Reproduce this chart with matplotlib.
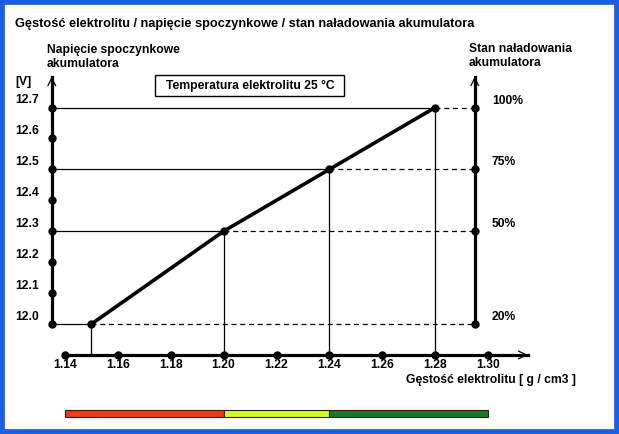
import matplotlib
matplotlib.use("Agg")
import matplotlib.pyplot as plt
from matplotlib.patches import Rectangle

# dane
density = [1.15, 1.20, 1.24, 1.28]          # g/cm3
voltage = [12.0, 12.3, 12.5, 12.7]          # V
charge = ['20%', '50%', '75%', '100%']
x_ticks = [1.14, 1.16, 1.18, 1.20, 1.22, 1.24, 1.26, 1.28, 1.30]
y_ticks = [12.0, 12.1, 12.2, 12.3, 12.4, 12.5, 12.6, 12.7]
band_edges = [1.14, 1.20, 1.24, 1.30]
band_colors = ['#ea3f12', '#ccff22', '#167a2c']

W, H = 619, 434
FONT = 'Liberation Sans'


def fpx(x, y):
    # piksele (od lewego gornego rogu) -> wspolrzedne figury
    return x / W, 1 - y / H


def run():
    fig = plt.figure(figsize=(W / 100, H / 100), dpi=100)
    fig.patch.set_facecolor('white')
    ax = fig.add_axes([0, 0, 1, 1])
    ax.set_axis_off()
    # skala: 1.14 -> 65 px, 1.30 -> 488 px; 12.0 -> 324 px, 12.7 -> 107.5 px
    sx = 423 / 0.16
    sy = 216.5 / 0.7
    ax.set_xlim(1.14 - 65 / sx, 1.14 + (W - 65) / sx)
    ax.set_ylim(12.0 - (H - 324) / sy, 12.0 + 324 / sy)

    x_left, x_right, y_axis, top = 1.135, 1.295, 11.9, 12.8
    lw_axis = 2.3

    # osie
    ax.plot([x_left, x_left], [voltage[0], top], color='black', lw=lw_axis)
    ax.plot([x_right, x_right], [voltage[0], top], color='black', lw=lw_axis)
    ax.plot([x_ticks[0], 1.315], [y_axis, y_axis], color='black', lw=lw_axis)
    for xy, xt in [((x_left, top), (x_left, top - 0.05)),
                   ((x_right, top), (x_right, top - 0.05)),
                   ((1.315, y_axis), (1.305, y_axis))]:
        ax.annotate('', xy=xy, xytext=xt,
                    arrowprops=dict(arrowstyle='->', lw=0.9, color='black',
                                    mutation_scale=14, shrinkA=0, shrinkB=0))

    # kropki na osiach
    ax.plot([x_left] * len(y_ticks), y_ticks, 'o', color='black', ms=5)
    ax.plot(x_ticks, [y_axis] * len(x_ticks), 'o', color='black', ms=5)
    ax.plot([x_right] * len(voltage), voltage, 'o', color='black', ms=5)

    # linie pomocnicze
    for d, v in zip(density, voltage):
        ax.plot([x_left, d], [v, v], color='black', lw=0.9)
        ax.plot([d, x_right], [v, v], color='black', lw=0.9, ls=(0, (4, 3)))
        ax.plot([d, d], [y_axis, v], color='black', lw=0.9)

    # charakterystyka
    ax.plot(density, voltage, color='black', lw=2.6, marker='o', ms=5)

    # opisy osi
    for v in y_ticks:
        ax.text(1.14 - 50 / sx, v + 7.5 / sy, f'{v:.1f}', ha='left', va='center',
                fontsize=8.7, fontweight='bold', family=FONT)
    for x in x_ticks:
        ax.text(x, y_axis - 10 / sy, f'{x:.2f}', ha='center', va='center',
                fontsize=8.7, fontweight='bold', family=FONT)
    for v, c in zip(voltage, charge):
        ax.text(x_right + 17 / sx, v + 7 / sy, c, ha='left', va='center',
                fontsize=8.7, fontweight='bold', family=FONT)

    # pasek kolorow
    for i, col in enumerate(band_colors):
        ax.add_patch(Rectangle((band_edges[i], 12.0 - 93 / sy),
                               band_edges[i + 1] - band_edges[i], 7.5 / sy,
                               facecolor=col, edgecolor='#3a1a10', lw=0.8))

    # teksty
    fig.text(*fpx(15, 24), 'Gęstość elektrolitu / napięcie spoczynkowe / stan naładowania akumulatora',
             ha='left', va='center', fontsize=9.2, fontweight='bold', family=FONT)
    fig.text(*fpx(47, 57), 'Napięcie spoczynkowe\nakumulatora', ha='left', va='center',
             fontsize=8.7, fontweight='bold', family=FONT, linespacing=1.15)
    fig.text(*fpx(469, 56), 'Stan naładowania\nakumulatora', ha='left', va='center',
             fontsize=8.7, fontweight='bold', family=FONT, linespacing=1.15)
    fig.text(*fpx(15, 82), '[V]', ha='left', va='center',
             fontsize=8.7, fontweight='bold', family=FONT)
    fig.text(*fpx(576, 380), 'Gęstość elektrolitu [ g / cm3 ]', ha='right', va='center',
             fontsize=8.7, fontweight='bold', family=FONT)

    x0, y0 = fpx(155, 96)
    x1, y1 = fpx(344, 75)
    fig.patches.append(Rectangle((x0, y0), x1 - x0, y1 - y0, transform=fig.transFigure,
                                 facecolor='white', edgecolor='black', lw=1.0))
    fig.text(*fpx(250, 86), 'Temperatura elektrolitu 25 °C', ha='center', va='center',
             fontsize=8.7, fontweight='bold', family=FONT)

    # niebieska ramka
    fig.patches.append(Rectangle((0, 0), 1, 1, transform=fig.transFigure,
                                 facecolor='none', edgecolor='#1b5fe0', lw=7))

    fig.savefig('out.png', dpi=100)


if __name__ == '__main__':
    run()
